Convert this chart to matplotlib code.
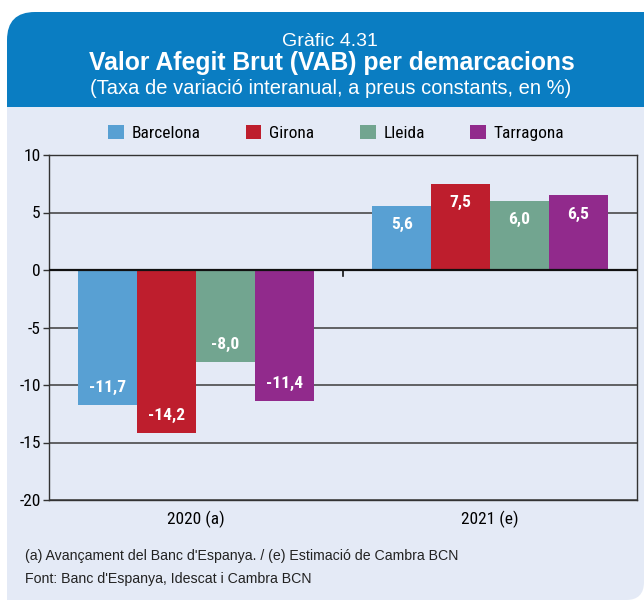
import matplotlib
matplotlib.use("Agg")
import matplotlib.pyplot as plt
import numpy as np
from matplotlib import font_manager
from matplotlib.path import Path
from matplotlib.patches import PathPatch

# Dades
anys = ["2020 (a)", "2021 (e)"]
demarcacions = ["Barcelona", "Girona", "Lleida", "Tarragona"]
barcelona = [-11.7, 5.6]
girona = [-14.2, 7.5]
lleida = [-8.0, 6.0]
tarragona = [-11.4, 6.5]
valors = [barcelona, girona, lleida, tarragona]
colors = ["#58a0d3", "#be1e2d", "#72a590", "#912a8c"]
yticks = [-20, -15, -10, -5, 0, 5, 10]

noms = {f.name for f in font_manager.fontManager.ttflist}
narrow = "Liberation Sans"
for cand in ["Liberation Sans Narrow", "Arial Narrow", "Roboto Condensed", "PT Sans Narrow",
             "Archivo Narrow", "Barlow Semi Condensed"]:
    if cand in noms:
        narrow = cand
        break
plt.rcParams["font.family"] = [narrow, "DejaVu Sans"]

W, H = 644, 601
fig = plt.figure(figsize=(W / 100, H / 100), dpi=100)
fig.patch.set_facecolor("white")

# fons (capçalera blava i panell clar) en píxels
bg = fig.add_axes([0, 0, 1, 1], zorder=-10)
bg.set_xlim(0, W)
bg.set_ylim(H, 0)
bg.axis("off")
r = 28
cap = Path([(7, 107), (7, 12 + r), (7, 12), (7 + r, 12), (W, 12), (W, 107), (7, 107)],
           [Path.MOVETO, Path.LINETO, Path.CURVE3, Path.CURVE3, Path.LINETO, Path.LINETO, Path.CLOSEPOLY])
bg.add_patch(PathPatch(cap, facecolor="#0a7dc2", edgecolor="none"))
r2 = 18
pan = Path([(7, 107), (W, 107), (W, 600 - r2), (W, 600), (W - r2, 600), (7, 600), (7, 107)],
           [Path.MOVETO, Path.LINETO, Path.LINETO, Path.CURVE3, Path.CURVE3, Path.LINETO, Path.CLOSEPOLY])
bg.add_patch(PathPatch(pan, facecolor="#e4eaf6", edgecolor="none"))

bg.text(330, 42, "Gràfic 4.31", color="white", fontsize=14, ha="center", va="center",
        family="Liberation Sans")
bg.text(332, 63, "Valor Afegit Brut (VAB) per demarcacions", color="white", fontsize=17.8,
        fontweight="bold", ha="center", va="center", family="Liberation Sans")
bg.text(331, 89, "(Taxa de variació interanual, a preus constants, en %)", color="white",
        fontsize=14.5, ha="center", va="center", family="Liberation Sans")
bg.text(25, 556, "(a) Avançament del Banc d'Espanya. / (e) Estimació de Cambra BCN",
        fontsize=10.2, ha="left", va="center", color="#222222", family="Liberation Sans")
bg.text(25, 579, "Font: Banc d'Espanya, Idescat i Cambra BCN",
        fontsize=10.2, ha="left", va="center", color="#222222", family="Liberation Sans")

# gràfic
ax = fig.add_axes([49 / W, 1 - 500 / H, (637 - 49) / W, (500 - 155) / H])
ax.set_facecolor("none")
x = np.arange(len(anys))
amp = 0.2
barres = []
for i, (nom, vals, c) in enumerate(zip(demarcacions, valors, colors)):
    pos = x + (i - 1.5) * amp
    b = ax.bar(pos, vals, width=amp, color=c, label=nom, zorder=3)
    barres.append(b)
    for xp, v in zip(pos, vals):
        ax.annotate(f"{v:.1f}".replace(".", ","), xy=(xp, v),
                    xytext=(0, -13.5 if v > 0 else 12.5), textcoords="offset points",
                    ha="center", va="center", color="white", fontsize=12.5, fontweight="bold",
                    zorder=4)

ax.set_xlim(-0.5, 1.5)
ax.set_ylim(-20, 10)
ax.set_yticks(yticks)
ax.set_yticklabels([str(t) for t in yticks], fontsize=12.5)
ax.set_xticks(x)
ax.set_xticklabels(anys, fontsize=12.5)
ax.tick_params(axis="x", length=0, pad=8)
ax.tick_params(axis="y", length=4, width=1, color="#333333", pad=2)
for t in yticks:
    ax.axhline(t, color="#3c3c3c", lw=1.1, zorder=1)
ax.axhline(0, color="#111111", lw=1.6, zorder=5)
ax.plot([0.5, 0.5], [0, -0.5], color="#111111", lw=1.2, zorder=5)
for s in ["left", "right", "top", "bottom"]:
    ax.spines[s].set_color("#333333")
    ax.spines[s].set_linewidth(1)

fig.legend(handles=barres, labels=demarcacions, loc="center", bbox_to_anchor=(336 / W, 1 - 133 / H),
           ncol=4, frameon=False, fontsize=12.5, handlelength=0.92, handleheight=0.92,
           handletextpad=0.45, columnspacing=2.6)

plt.savefig("out.png", dpi=100)
